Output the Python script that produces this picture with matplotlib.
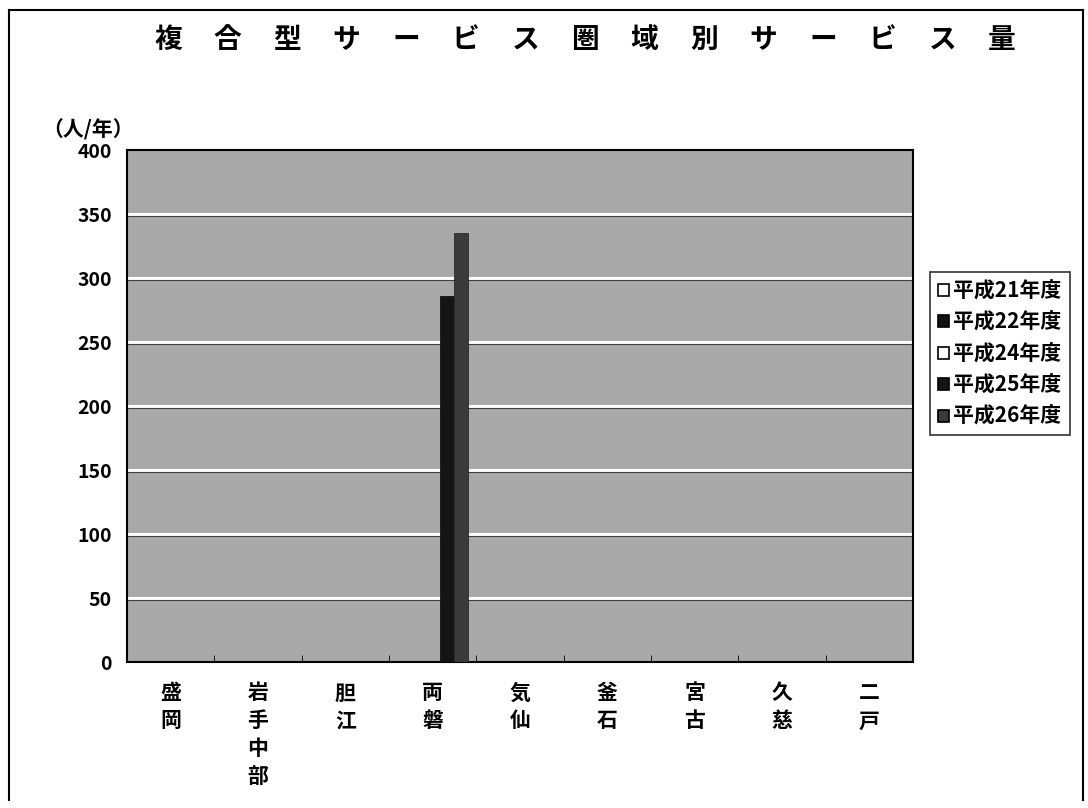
import matplotlib
matplotlib.use("Agg")
import matplotlib.pyplot as plt
import numpy as np
from matplotlib.patches import Patch
from matplotlib.lines import Line2D

plt.rcParams['font.family'] = ['Noto Sans CJK JP', 'DejaVu Sans']

categories = ['盛岡', '岩手中部', '胆江', '両磐', '気仙', '釜石', '宮古', '久慈', '二戸']
series_names = ['平成21年度', '平成22年度', '平成24年度', '平成25年度', '平成26年度']
values = {
    '平成21年度': [0, 0, 0, 0, 0, 0, 0, 0, 0],
    '平成22年度': [0, 0, 0, 0, 0, 0, 0, 0, 0],
    '平成24年度': [0, 0, 0, 0, 0, 0, 0, 0, 0],
    '平成25年度': [0, 0, 0, 286, 0, 0, 0, 0, 0],
    '平成26年度': [0, 0, 0, 335, 0, 0, 0, 0, 0],
}
yticks = [0, 50, 100, 150, 200, 250, 300, 350, 400]
title = '複合型サービス圏域別サービス量'
ylabel = '（人/年）'

bar_colors = ['white', '#111111', 'white', '#151515', '#3a3a3a']
edge_colors = ['black', 'black', 'black', '#111111', '#2a2a2a']

fig = plt.figure(figsize=(10.88, 8.08), dpi=100)
ax = fig.add_axes([127/1088, 1-662/808, (913-127)/1088, (662-150)/808])
ax.set_facecolor('#a9a9a9')

n = len(series_names)
bw = 0.16
x = np.arange(len(categories))
for i, s in enumerate(series_names):
    ax.bar(x + (i - (n-1)/2) * bw, values[s], width=bw, color=bar_colors[i],
           edgecolor=edge_colors[i], linewidth=0.6, zorder=3, label=s)

ax.set_xlim(-0.5, len(categories) - 0.5)
ax.set_ylim(0, 400)
ax.set_yticks(yticks)
ax.set_yticklabels([str(v) for v in yticks], fontsize=14, fontweight='bold')
ax.tick_params(axis='y', length=0, pad=11)
for v in yticks[1:-1]:
    ax.axhline(v, color='white', lw=2.2, zorder=1)
    ax.axhline(v - 1.2, color='#404040', lw=0.8, zorder=1)
ax.set_xticks(np.arange(len(categories) + 1) - 0.5, minor=True)
ax.set_xticks([])
ax.tick_params(axis='x', which='minor', direction='in', length=5, color='black')
for sp in ax.spines.values():
    sp.set_color('black')
    sp.set_linewidth(1.5)

# vertical category labels
for i, c in enumerate(categories):
    ax.text(i, -16, '\n'.join(c), ha='center', va='top', fontsize=15,
            fontweight='bold', linespacing=1.4, transform=ax.transData, clip_on=False)

# title with spaced characters
x0, x1 = 168/1088, 1002/1088
for k, ch in enumerate(title):
    fig.text(x0 + (x1 - x0) * k / (len(title) - 1), 1 - 40/808, ch,
             ha='center', va='center', fontsize=20, fontweight='bold')

fig.text(88/1088, 1 - 130/808, ylabel, ha='center', va='center', fontsize=15,
         fontweight='bold')

# legend
handles = [Patch(facecolor=bar_colors[i], edgecolor='black', linewidth=1.2, label=s)
           for i, s in enumerate(series_names)]
leg = fig.legend(handles=handles, loc='upper left',
                 bbox_to_anchor=(930/1088, 1 - 272/808),
                 prop={'size': 15, 'weight': 'bold'},
                 frameon=True, fancybox=False, edgecolor='black',
                 handlelength=0.5, handleheight=0.5, handletextpad=0.2,
                 labelspacing=0.5, borderpad=0.4, borderaxespad=0)
leg.get_frame().set_linewidth(1.2)

# outer border (top, left, right)
fig.add_artist(Line2D([9/1088, 1083/1088], [1-10/808, 1-10/808], color='black', lw=1.5))
fig.add_artist(Line2D([9/1088, 9/1088], [1-10/808, 1-800/808], color='black', lw=1.5))
fig.add_artist(Line2D([1083/1088, 1083/1088], [1-10/808, 1-800/808], color='black', lw=1.5))

fig.savefig('out.png', dpi=100)
